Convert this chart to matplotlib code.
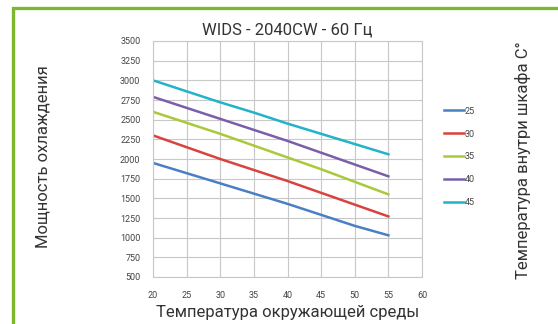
import matplotlib.pyplot as plt
from matplotlib.patches import Rectangle
import numpy as np

# Ambient temperature (x) and cooling capacity per cabinet temperature
ambient = [20, 25, 30, 35, 40, 45, 50, 55]
cabinet_temps = ['25', '30', '35', '40', '45']
cap_25 = [1950, 1820, 1690, 1560, 1430, 1290, 1150, 1030]
cap_30 = [2300, 2150, 2000, 1860, 1720, 1570, 1420, 1270]
cap_35 = [2600, 2460, 2320, 2170, 2020, 1870, 1710, 1550]
cap_40 = [2790, 2650, 2510, 2370, 2230, 2080, 1930, 1780]
cap_45 = [3000, 2860, 2720, 2590, 2450, 2320, 2190, 2060]
colors = ['#4a7fc4', '#d9423f', '#a9c93a', '#7b5ea9', '#22b3c9']

x_ticks = [20, 25, 30, 35, 40, 45, 50, 55, 60]
y_ticks = [500, 750, 1000, 1250, 1500, 1750, 2000, 2250, 2500, 2750, 3000, 3250, 3500]

plt.rcParams['font.family'] = ['Roboto', 'DejaVu Sans']

W, H = 558, 324
fig = plt.figure(figsize=(W / 100, H / 100), dpi=100)

# green frame around the whole card
fig.patches.append(Rectangle((12.5 / W, -0.1), (W - 11) / W, 1 - 8.5 / H + 0.1,
                             transform=fig.transFigure, fill=False,
                             edgecolor='#7cb82f', linewidth=2.4))

ax = fig.add_axes([153 / W, 1 - 277 / H, (422 - 153) / W, (277 - 41) / H])
for vals, c, lab in zip([cap_25, cap_30, cap_35, cap_40, cap_45], colors, cabinet_temps):
    ax.plot(ambient, vals, color=c, linewidth=1.8, label=lab)

ax.set_xlim(20, 60)
ax.set_ylim(500, 3500)
ax.set_xticks(x_ticks)
ax.set_yticks(y_ticks)
ax.grid(True, color='#c8c8c8', linewidth=0.8)
for s in ax.spines.values():
    s.set_color('#c8c8c8')
    s.set_linewidth(0.8)
ax.tick_params(length=0, labelsize=6.5, colors='#444444')
ax.tick_params(axis='x', pad=10)
ax.tick_params(axis='y', pad=9)

txt = dict(fontsize=12, color='#333333')
ax.set_title('WIDS - 2040CW - 60 Гц', pad=5, **txt)
ax.set_xlabel('Температура окружающей среды', labelpad=4, **txt)
fig.text(43 / W, 1 - 157 / H, 'Мощность охлаждения', rotation=90, ha='center', va='center', **txt)
fig.text(523 / W, 1 - 160 / H, 'Температура внутри шкафа С°', rotation=90, ha='center', va='center', **txt)

leg = ax.legend(loc='center left', bbox_to_anchor=(436 / W, 1 - 157 / H),
                bbox_transform=fig.transFigure, frameon=False, fontsize=6.5,
                labelcolor='#444444', handlelength=2.2, handletextpad=0.1,
                labelspacing=1.55)

fig.savefig('out.png', dpi=100)
